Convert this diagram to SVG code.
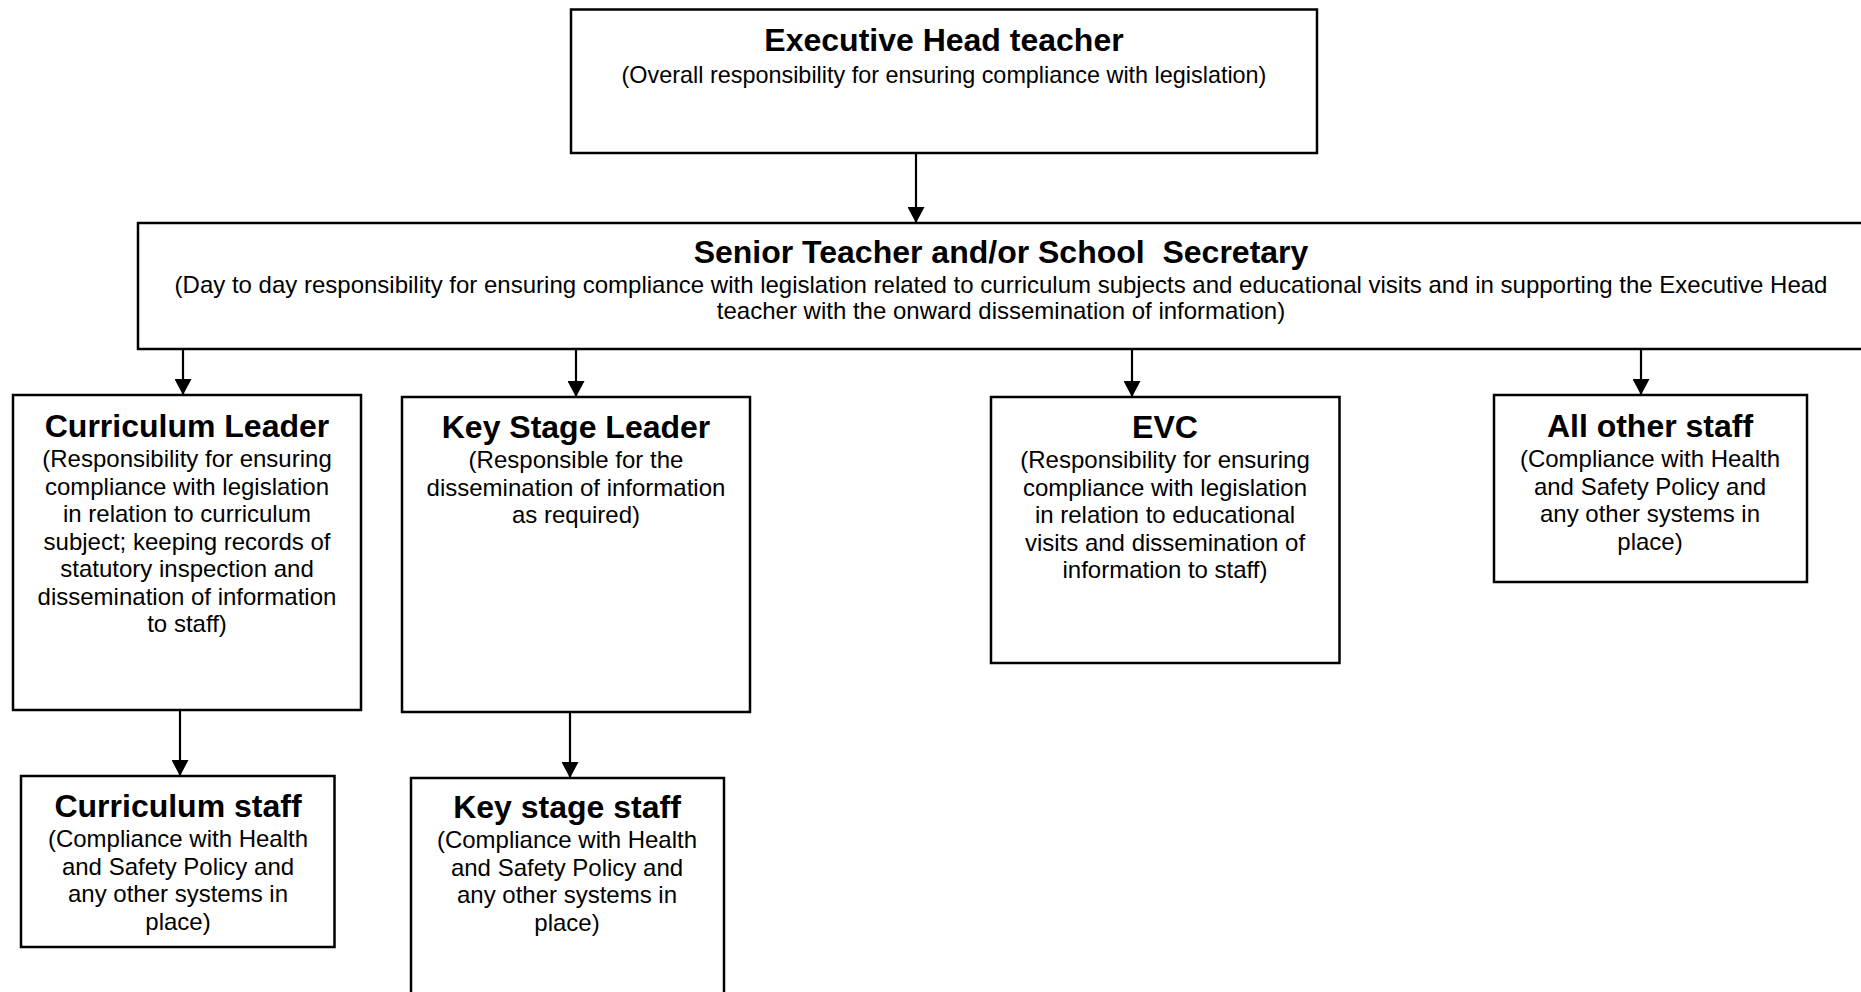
<svg xmlns="http://www.w3.org/2000/svg" width="1861" height="992" viewBox="0 0 1861 992">
<style>
.box{fill:#fff;stroke:#000;stroke-width:2.5}
.t{font-family:"Liberation Sans",Arial,sans-serif;font-weight:bold;font-size:32px;text-anchor:middle;fill:#000}
.d{font-family:"Liberation Sans",Arial,sans-serif;font-size:24px;text-anchor:middle;fill:#000}
.c{stroke:#000;stroke-width:2.2;fill:none}
</style>
<defs>
<marker id="ah" markerUnits="userSpaceOnUse" markerWidth="16" markerHeight="17" refX="16" refY="8.5" orient="auto">
<path d="M0,0 L16,8.5 L0,17 Z" fill="#000"/>
</marker>
</defs>
<rect width="1861" height="992" fill="#fff"/>
<g id="connectors">
<line class="c" x1="916" y1="153" x2="916" y2="223" marker-end="url(#ah)"/>
<line class="c" x1="183" y1="349" x2="183" y2="395" marker-end="url(#ah)"/>
<line class="c" x1="576" y1="349" x2="576" y2="397" marker-end="url(#ah)"/>
<line class="c" x1="1132" y1="349" x2="1132" y2="397" marker-end="url(#ah)"/>
<line class="c" x1="1641" y1="346" x2="1641" y2="395" marker-end="url(#ah)"/>
<line class="c" x1="180" y1="707" x2="180" y2="776" marker-end="url(#ah)"/>
<line class="c" x1="570" y1="708" x2="570" y2="778" marker-end="url(#ah)"/>
</g>
<g id="exec">
<rect class="box" x="571" y="9.5" width="746" height="143.5"/>
<text class="t" x="944" y="51">Executive Head teacher</text>
<text class="d" x="944" y="83" style="font-size:23.4px">(Overall responsibility for ensuring compliance with legislation)</text>
</g>
<g id="senior">
<rect class="box" x="138" y="223" width="1730" height="126"/>
<text class="t" x="1001" y="263" xml:space="preserve">Senior Teacher and/or School  Secretary</text>
<text class="d" x="1001" y="293">(Day to day responsibility for ensuring compliance with legislation related to curriculum subjects and educational visits and in supporting the Executive Head</text>
<text class="d" x="1001" y="319">teacher with the onward dissemination of information)</text>
</g>
<g id="curriculum-leader">
<rect class="box" x="13" y="395" width="348" height="315"/>
<text class="t" x="187" y="437">Curriculum Leader</text>
<text class="d" x="187" y="467">(Responsibility for ensuring</text>
<text class="d" x="187" y="494.5">compliance with legislation</text>
<text class="d" x="187" y="522">in relation to curriculum</text>
<text class="d" x="187" y="549.5">subject; keeping records of</text>
<text class="d" x="187" y="577">statutory inspection and</text>
<text class="d" x="187" y="604.5">dissemination of information</text>
<text class="d" x="187" y="632">to staff)</text>
</g>
<g id="key-stage-leader">
<rect class="box" x="402" y="397" width="348" height="315"/>
<text class="t" x="576" y="438">Key Stage Leader</text>
<text class="d" x="576" y="468">(Responsible for the</text>
<text class="d" x="576" y="495.5">dissemination of information</text>
<text class="d" x="576" y="523">as required)</text>
</g>
<g id="evc">
<rect class="box" x="991" y="397" width="348.5" height="266"/>
<text class="t" x="1165" y="438">EVC</text>
<text class="d" x="1165" y="468">(Responsibility for ensuring</text>
<text class="d" x="1165" y="495.5">compliance with legislation</text>
<text class="d" x="1165" y="523">in relation to educational</text>
<text class="d" x="1165" y="550.5">visits and dissemination of</text>
<text class="d" x="1165" y="578">information to staff)</text>
</g>
<g id="all-other-staff">
<rect class="box" x="1494" y="395" width="313" height="187"/>
<text class="t" x="1650" y="437">All other staff</text>
<text class="d" x="1650" y="467">(Compliance with Health</text>
<text class="d" x="1650" y="494.5">and Safety Policy and</text>
<text class="d" x="1650" y="522">any other systems in</text>
<text class="d" x="1650" y="549.5">place)</text>
</g>
<g id="curriculum-staff">
<rect class="box" x="21" y="776" width="313.5" height="171"/>
<text class="t" x="178" y="817">Curriculum staff</text>
<text class="d" x="178" y="847">(Compliance with Health</text>
<text class="d" x="178" y="874.5">and Safety Policy and</text>
<text class="d" x="178" y="902">any other systems in</text>
<text class="d" x="178" y="929.5">place)</text>
</g>
<g id="key-stage-staff">
<rect class="box" x="411" y="778" width="313" height="230"/>
<text class="t" x="567" y="818">Key stage staff</text>
<text class="d" x="567" y="848">(Compliance with Health</text>
<text class="d" x="567" y="875.5">and Safety Policy and</text>
<text class="d" x="567" y="903">any other systems in</text>
<text class="d" x="567" y="930.5">place)</text>
</g>
</svg>
